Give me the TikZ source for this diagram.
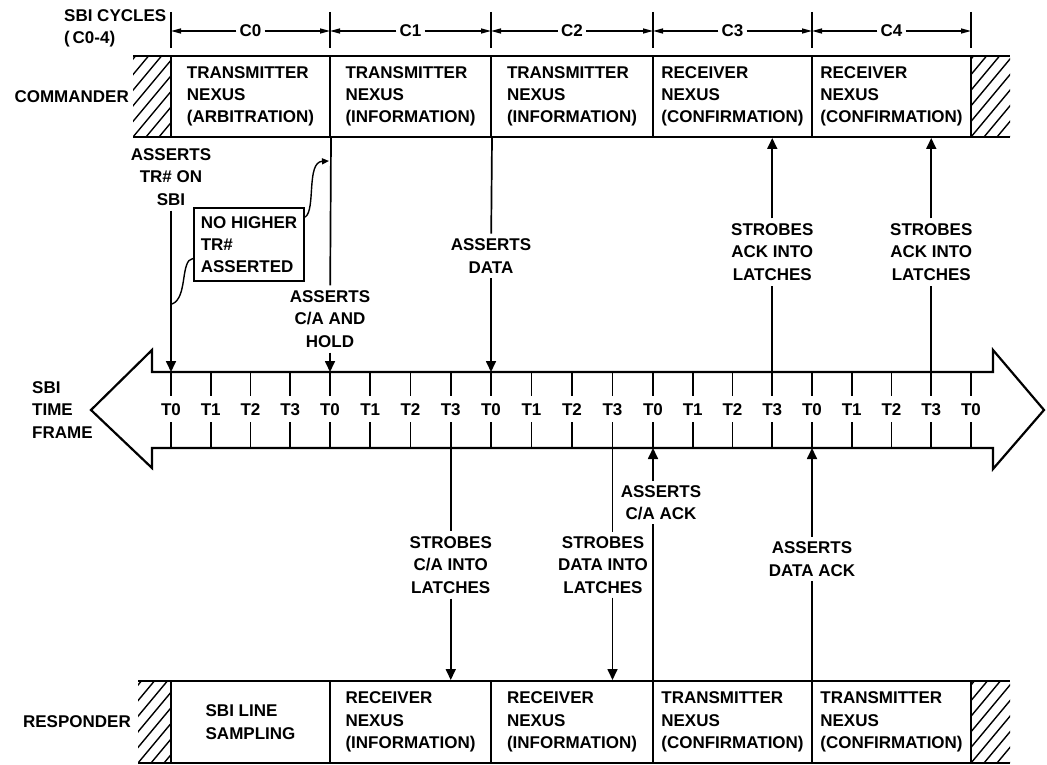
\documentclass[tikz,border=0pt]{standalone}
\usepackage{fontspec}
\setmainfont{Liberation Sans}
\usetikzlibrary{arrows.meta}
\begin{document}
\begin{tikzpicture}[x=1pt,y=-1pt,
  every node/.style={font=\fontsize{17}{22.3}\selectfont\bfseries, inner sep=0pt},
  ln/.style={line width=1.7pt},
  box/.style={draw, line width=2pt, minimum height=81pt, align=left},
  ar/.style={line width=1.7pt, -{Triangle[width=10pt,length=11pt]}},
  dim/.style={line width=1.5pt, -{Triangle[width=5pt,length=10pt]}},
  lbl/.style={align=center, inner sep=5pt},
  hatch/.style={line width=1.4pt},
]
\useasboundingbox (0,0) rectangle (1047,765);

% ---------- cycle dimension line ----------
\node[align=left, anchor=west] (cyc) at (64,28.5) {SBI CYCLES\\(\,C0-4)};
\foreach \x [count=\i from 0] in {171,330,491,653,812,971} {
  \draw[line width=1.4pt] (\x,12) -- (\x,48);
  \coordinate (d\i) at (\x,31);
}
\foreach \n/\a/\b in {0/0/1,1/1/2,2/2/3,3/3/4,4/4/5} {
  \path (d\a) -- (d\b) node[midway, inner xsep=3pt] (cy\n) {C\n};
  \draw[dim] (cy\n.west) -- (d\a);
  \draw[dim] (cy\n.east) -- (d\b);
}

% ---------- commander ----------
\node[anchor=east] (cmd) at (129,97) {COMMANDER};
\begin{scope}
  \clip (133,56) rectangle (171,137);
  \foreach \k in {-8,...,4} \draw[hatch] (133+\k*13,137) -- ++(75,-90);
\end{scope}
\begin{scope}
  \clip (971,56) rectangle (1010,137);
  \foreach \k in {-8,...,4} \draw[hatch] (971+\k*13,137) -- ++(75,-90);
\end{scope}
\draw[line width=2.3pt] (133,56) -- (1010,56) (133,137) -- (1010,137);
\node[box, minimum width=159pt] (c1) at (250.5,96.5) {TRANSMITTER\\NEXUS\\(ARBITRATION)};
\node[box, minimum width=161pt] (c2) at (410.5,96.5) {TRANSMITTER\\NEXUS\\(INFORMATION)};
\node[box, minimum width=162pt] (c3) at (572,96.5) {TRANSMITTER\\NEXUS\\(INFORMATION)};
\node[box, minimum width=159pt] (c4) at (732.5,96.5) {RECEIVER\\NEXUS\\(CONFIRMATION)};
\node[box, minimum width=159pt] (c5) at (891.5,96.5) {RECEIVER\\NEXUS\\(CONFIRMATION)};

% ---------- SBI time frame ----------
\node[align=left, anchor=west] (tf) at (32,410) {SBI\\TIME\\FRAME};
\draw[line width=2.2pt, line join=miter] (152,372) -- (993,372) -- (993,350) -- (1044,410)
  -- (993,469) -- (993,448) -- (152,448) -- (152,468) -- (91,410) -- (152,350) -- cycle;
\foreach \x [count=\i from 0] in {171,210.75,250.5,290.25,330,370.25,410.5,450.75,491,531.5,572,612.5,653,692.75,732.5,772.25,812,851.75,891.5,931.25,971} {
  \pgfmathtruncatemacro\t{mod(\i,4)}
  \coordinate (top\i) at (\x,372);
  \coordinate (bot\i) at (\x,448);
  \draw[line width=1.6pt] (\x,372) -- (\x,396) (\x,422) -- (\x,448);
  \node (t\i) at (\x,410) {T\t};
}

% ---------- responder ----------
\node[anchor=east] (rsp) at (131,722) {RESPONDER};
\begin{scope}
  \clip (138,681) rectangle (171,763);
  \foreach \k in {-8,...,4} \draw[hatch] (138+\k*13,763) -- ++(75,-90);
\end{scope}
\begin{scope}
  \clip (971,681) rectangle (1010,763);
  \foreach \k in {-8,...,4} \draw[hatch] (971+\k*13,763) -- ++(75,-90);
\end{scope}
\draw[line width=2.3pt] (138,681) -- (1010,681) (138,763) -- (1010,763);
\node[box, minimum width=159pt, minimum height=82pt] (r1) at (250.5,722) {SBI LINE\\SAMPLING};
\node[box, minimum width=161pt, minimum height=82pt] (r2) at (410.5,722) {RECEIVER\\NEXUS\\(INFORMATION)};
\node[box, minimum width=162pt, minimum height=82pt] (r3) at (572,722) {RECEIVER\\NEXUS\\(INFORMATION)};
\node[box, minimum width=159pt, minimum height=82pt] (r4) at (732.5,722) {TRANSMITTER\\NEXUS\\(CONFIRMATION)};
\node[box, minimum width=159pt, minimum height=82pt] (r5) at (891.5,722) {TRANSMITTER\\NEXUS\\(CONFIRMATION)};

% ---------- events above the time frame ----------
\node[lbl] (a1) at (171,177) {ASSERTS\\TR\# ON\\SBI};
\draw[ar] (a1) -- (top0);

\node[draw, line width=2.2pt, align=left, minimum width=110pt, minimum height=73pt] (nh) at (249,244.5) {NO HIGHER\\TR\#\\ASSERTED};
\coordinate (hook1) at (329,161);
\coordinate (hook2) at (172,304);
\draw[line width=1.4pt, -{Triangle[width=6pt,length=7pt]}] (nh.26) .. controls (316,210) and (306,162) .. (hook1);
\draw[line width=1.4pt] (nh.194) .. controls (180,260) and (188,298) .. (hook2);

\node[lbl] (a2) at (330,319) {ASSERTS\\C/A AND\\HOLD};
\draw[ln] (c1.south east) -- (a2);
\draw[ar] (a2) -- (top4);

\node[lbl] (a3) at (491,256) {ASSERTS\\DATA};
\draw[ln] (c2.south east) -- (a3);
\draw[ar] (a3) -- (top8);

\node[lbl] (s1) at (772.25,252) {STROBES\\ACK INTO\\LATCHES};
\draw[ln] (top15) -- (s1);
\draw[ar] (s1) -- (top15 |- c4.south);

\node[lbl] (s2) at (931.25,252) {STROBES\\ACK INTO\\LATCHES};
\draw[ln] (top19) -- (s2);
\draw[ar] (s2) -- (top19 |- c5.south);

% ---------- events below the time frame ----------
\node[lbl] (s3) at (450.75,565) {STROBES\\C/A INTO\\LATCHES};
\draw[ln] (bot7) -- (s3);
\draw[ar] (s3) -- (bot7 |- r2.north);

\node[lbl, inner sep=4pt] (s4) at (603,565) {STROBES\\DATA INTO\\LATCHES};
\draw[ln] (bot11) -- (bot11 |- s4.north);
\draw[ar] (bot11 |- s4.south) -- (bot11 |- r3.north);

\node[lbl, inner sep=4pt] (a4) at (661,502.5) {ASSERTS\\C/A ACK};
\draw[ln] (bot12 |- r4.north) -- (bot12 |- a4.south);
\draw[ar] (bot12 |- a4.north) -- (bot12);

\node[lbl] (a5) at (812,559) {ASSERTS\\DATA ACK};
\draw[ln] (bot16 |- r5.north) -- (a5);
\draw[ar] (a5) -- (bot16);
\end{tikzpicture}
\end{document}
